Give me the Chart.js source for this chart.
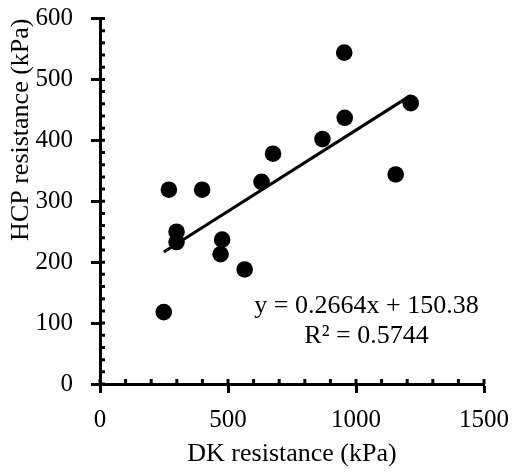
<!DOCTYPE html>
<html>
<head>
<meta charset="utf-8">
<script src="https://cdn.jsdelivr.net/npm/chart.js@4.4.1/dist/chart.umd.min.js"></script>
<style>
  html, body { margin: 0; padding: 0; background: #fff; }
  #wrap { width: 513px; height: 472px; }
</style>
</head>
<body>
<div id="wrap"><canvas id="myChart" width="513" height="472"></canvas></div>
<script>
// DK vs HCP resistance (kPa)
const dkValues = [249, 269, 299, 299, 399, 471, 477, 565, 631, 676, 869, 954, 956, 1155, 1214];
const hcpValues = [118, 319, 250, 233, 319, 213, 237, 188, 332, 378, 402, 544, 437, 344, 461];

// linear trendline end points
const trendX = [249, 1214];
const trendY = [216.7, 473.8];

const eqLines = ["y = 0.2664x + 150.38", "R\u00b2 = 0.5744"];

const FONT = "'Liberation Serif', 'Times New Roman', serif";

const minorTicks = {
  id: "minorTicks",
  beforeDatasetsDraw(chart) {
    const { ctx, scales } = chart;
    const x = scales.x, y = scales.y;
    ctx.save();
    ctx.strokeStyle = "#000";
    ctx.lineWidth = 3;
    ctx.beginPath();
    for (let v = 0; v <= 1500; v += 100) {
      const px = x.getPixelForValue(v);
      ctx.moveTo(px, x.top);
      ctx.lineTo(px, x.top - 5);
    }
    for (let v = 0; v <= 600; v += 20) {
      const py = y.getPixelForValue(v);
      ctx.moveTo(y.right, py);
      ctx.lineTo(y.right + 5, py);
    }
    ctx.stroke();
    ctx.restore();
  },
};

const equationLabel = {
  id: "equationLabel",
  afterDraw(chart) {
    const { ctx, scales } = chart;
    const cx = scales.x.getPixelForValue(1041);
    ctx.save();
    ctx.fillStyle = "#000";
    ctx.font = "26px " + FONT;
    ctx.textAlign = "center";
    ctx.textBaseline = "middle";
    ctx.fillText(eqLines[0], cx, scales.y.getPixelForValue(127));
    ctx.fillText(eqLines[1], cx, scales.y.getPixelForValue(78));
    ctx.restore();
  },
};

new Chart(document.getElementById("myChart"), {
  type: "scatter",
  data: {
    datasets: [
      {
        label: "HCP",
        data: dkValues.map((v, i) => ({ x: v, y: hcpValues[i] })),
        backgroundColor: "#000",
        borderWidth: 0,
        pointRadius: 8.3,
        pointHoverRadius: 8.3,
        order: 2,
      },
      {
        label: "Linear",
        type: "line",
        data: trendX.map((v, i) => ({ x: v, y: trendY[i] })),
        borderColor: "#000",
        borderWidth: 3,
        pointRadius: 0,
        fill: false,
        order: 1,
      },
    ],
  },
  options: {
    responsive: false,
    animation: false,
    devicePixelRatio: 1,
    layout: { padding: { left: 0, right: 29, top: 18.5, bottom: 0 } },
    plugins: {
      legend: { display: false },
      tooltip: { enabled: false },
    },
    scales: {
      x: {
        type: "linear",
        min: 0,
        max: 1500,
        afterFit(scale) {
          scale.height = 88;
          scale.paddingLeft = 0;
          scale.paddingRight = 0;
        },
        ticks: {
          stepSize: 500,
          color: "#000",
          padding: 12,
          maxRotation: 0,
          font: { family: FONT, size: 25 },
          callback: (v) => String(v),
        },
        grid: { drawOnChartArea: false, drawTicks: true, tickLength: 9, tickWidth: 3, tickColor: "#000" },
        border: { display: true, color: "#000", width: 3 },
        title: {
          display: true,
          text: "DK resistance (kPa)",
          color: "#000",
          font: { family: FONT, size: 26 },
          padding: { top: 0, bottom: 2 },
        },
      },
      y: {
        type: "linear",
        min: 0,
        max: 600,
        afterFit(scale) {
          scale.width = 100;
          scale.paddingTop = 0;
          scale.paddingBottom = 0;
        },
        ticks: {
          stepSize: 100,
          color: "#000",
          padding: 18,
          font: { family: FONT, size: 25 },
          callback: (v) => String(v),
        },
        grid: { drawOnChartArea: false, drawTicks: true, tickLength: 9, tickWidth: 3, tickColor: "#000" },
        border: { display: true, color: "#000", width: 3 },
        title: {
          display: true,
          text: "HCP resistance (kPa)",
          align: "end",
          color: "#000",
          font: { family: FONT, size: 26 },
          padding: { top: 6, bottom: 0 },
        },
      },
    },
  },
  plugins: [minorTicks, equationLabel],
});
</script>
</body>
</html>
